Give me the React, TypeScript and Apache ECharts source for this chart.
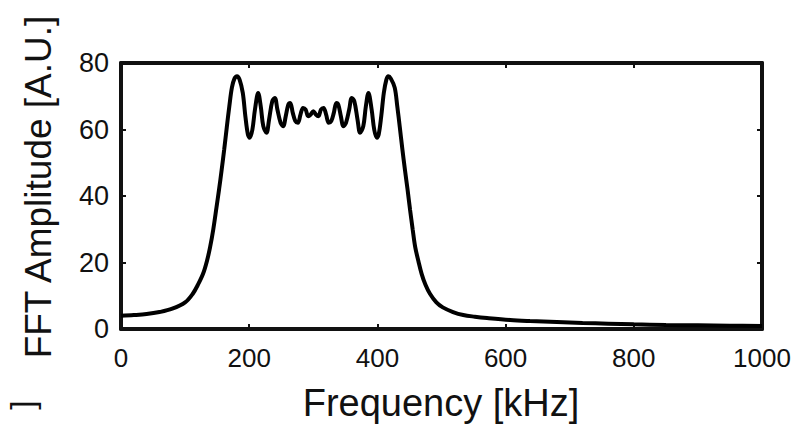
import React, { useEffect, useRef } from "react";
import * as echarts from "echarts";

// Frequency (kHz) and FFT amplitude
const freqKHz: number[] = [
  0, 20, 40, 60, 80, 100, 112, 120, 128, 134, 139, 144, 149, 153, 157, 161, 165, 169, 173, 177,
  181, 185, 190, 194, 198, 201, 205, 209, 214, 218, 222, 227, 231, 236, 240, 244, 249, 253, 257,
  261, 264, 268, 272, 276, 280, 284, 288, 292, 296, 300, 304, 308, 312, 316, 320, 324, 328, 332,
  336, 339, 343, 347, 351, 356, 360, 364, 369, 373, 378, 382, 386, 391, 395, 399, 402, 406, 410,
  414, 417, 421, 427, 431, 435, 439, 443, 447, 451, 455, 459, 464, 469, 475, 482, 492, 502, 518,
  534, 552, 571, 607, 638, 680, 720, 760, 800, 850, 900, 950, 1000,
];
const amplitude: number[] = [
  4.0, 4.2, 4.5, 5.1, 6.1, 8.0, 10.6, 13.3, 16.6, 20.4, 24.6, 30.0, 36.6, 42.0, 47.8, 54.0, 60.6, 67.0, 72.6, 75.3,
  76.0, 75.0, 71.0, 64.0, 58.5, 57.5, 60.0, 66.0, 71.0, 67.0, 61.0, 59.0, 63.0, 68.5, 69.5, 66.0, 62.0, 61.0, 64.0,
  67.5, 68.0, 65.0, 62.5, 62.0, 64.5, 66.5, 66.0, 64.0, 64.5, 65.5, 64.5, 64.0, 66.0, 66.5, 64.5, 62.0, 62.5, 65.0,
  68.0, 67.5, 64.0, 61.0, 62.0, 66.0, 69.5, 68.5, 63.0, 59.0, 61.0, 67.0, 71.0, 66.0, 60.0, 57.5, 58.5, 64.0, 71.0,
  75.0, 76.0, 75.3, 72.6, 67.0, 60.6, 54.0, 47.8, 42.0, 35.8, 30.0, 24.6, 20.4, 16.6, 13.3, 10.6, 8.0, 6.5, 5.1,
  4.2, 3.7, 3.3, 2.7, 2.4, 2.1, 1.8, 1.6, 1.4, 1.2, 1.1, 1.0, 0.9,
];

const xTicks: number[] = [0, 200, 400, 600, 800, 1000];
const yTicks: number[] = [0, 20, 40, 60, 80];

const xName = "Frequency [kHz]";
const yName = "FFT Amplitude [A.U.]";

export default function App() {
  const ref = useRef<HTMLDivElement>(null);

  useEffect(() => {
    if (!ref.current) return;
    const chart = echarts.init(ref.current, undefined, { renderer: "svg" });
    const font = "Liberation Sans, Arial, Helvetica, sans-serif";
    const ink = "#111";
    const data = freqKHz.map((f, i) => [f, amplitude[i]]);
    const xMin = xTicks[0];
    const xMax = xTicks[xTicks.length - 1];
    const xInt = xTicks[1] - xTicks[0];
    const yMin = yTicks[0];
    const yMax = yTicks[yTicks.length - 1];
    const yInt = yTicks[1] - yTicks[0];

    const frameLine = { show: true, onZero: false, lineStyle: { color: ink, width: 4 } };
    const inTick = { show: true, inside: true, length: 5, lineStyle: { color: ink, width: 2 } };
    const plain = (v: number) => String(v);

    chart.setOption({
      animation: false,
      backgroundColor: "#fff",
      grid: { left: 121, right: 43, top: 63, bottom: 99, containLabel: false },
      xAxis: [
        {
          type: "value",
          min: xMin,
          max: xMax,
          interval: xInt,
          position: "bottom",
          axisLine: frameLine,
          axisTick: inTick,
          splitLine: { show: false },
          axisLabel: {
            show: true,
            color: ink,
            fontFamily: font,
            fontSize: 26,
            margin: 16,
            formatter: plain,
          },
        },
        {
          type: "value",
          min: xMin,
          max: xMax,
          interval: xInt,
          position: "top",
          axisLine: frameLine,
          axisTick: inTick,
          splitLine: { show: false },
          axisLabel: { show: false },
        },
      ],
      yAxis: [
        {
          type: "value",
          min: yMin,
          max: yMax,
          interval: yInt,
          position: "left",
          axisLine: frameLine,
          axisTick: inTick,
          splitLine: { show: false },
          axisLabel: {
            show: true,
            color: ink,
            fontFamily: font,
            fontSize: 27,
            margin: 12,
            formatter: plain,
          },
        },
        {
          type: "value",
          min: yMin,
          max: yMax,
          interval: yInt,
          position: "right",
          axisLine: frameLine,
          axisTick: inTick,
          splitLine: { show: false },
          axisLabel: { show: false },
        },
      ],
      graphic: [
        {
          type: "text",
          x: 441,
          y: 403,
          style: {
            text: xName,
            fill: ink,
            font: `38px ${font}`,
            textAlign: "center",
            textVerticalAlign: "middle",
          },
        },
        {
          type: "text",
          x: 38,
          y: 187,
          rotation: Math.PI / 2,
          style: {
            text: yName,
            fill: ink,
            font: `37px ${font}`,
            textAlign: "center",
            textVerticalAlign: "middle",
          },
        },
        {
          type: "text",
          x: 22,
          y: 405,
          rotation: Math.PI / 2,
          style: {
            text: "]",
            fill: ink,
            font: `34px ${font}`,
            textAlign: "center",
            textVerticalAlign: "middle",
          },
        },
      ],
      series: [
        {
          type: "line",
          xAxisIndex: 0,
          yAxisIndex: 0,
          data,
          smooth: 0.35,
          symbol: "none",
          lineStyle: { color: "#000", width: 4 },
          clip: true,
        },
      ],
    });
    return () => chart.dispose();
  }, []);

  return (
    <div
      ref={ref}
      style={{ position: "absolute", left: 0, top: 0, width: 805, height: 428, background: "#fff" }}
    />
  );
}
